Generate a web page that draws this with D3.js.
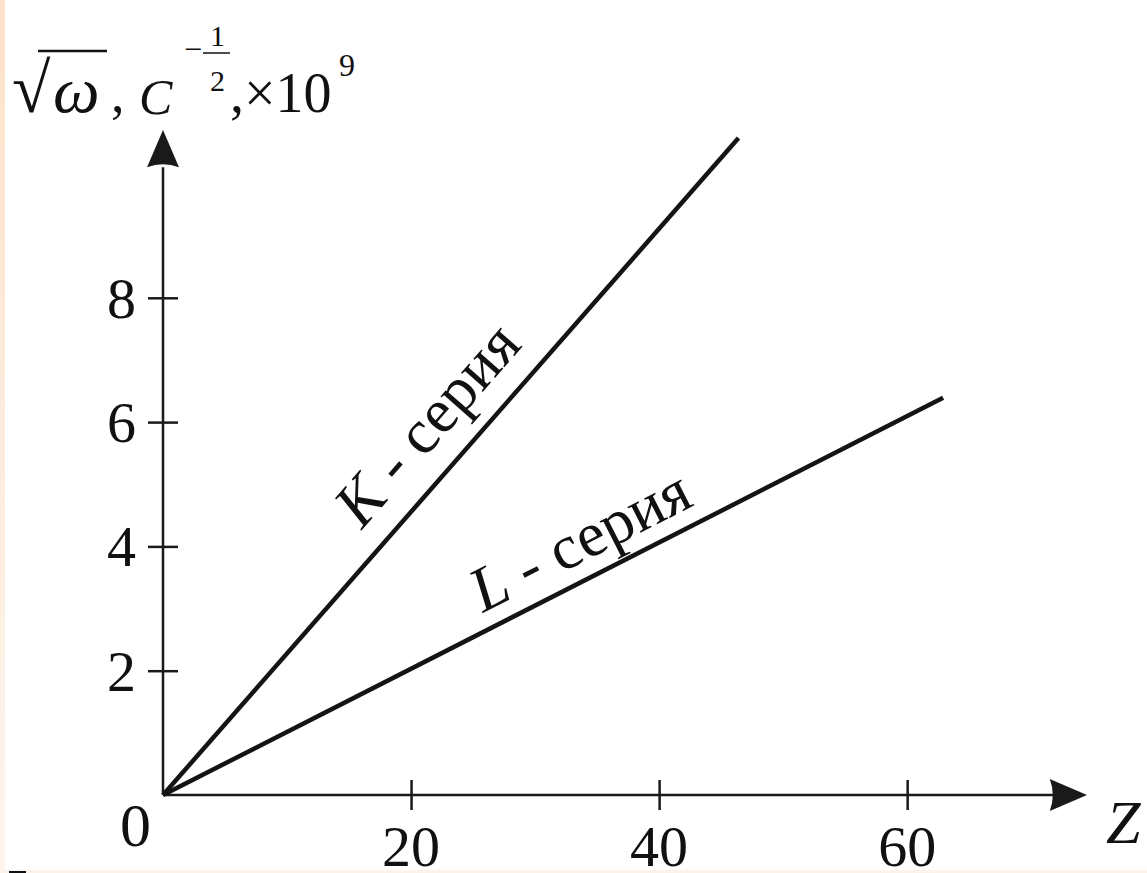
<!DOCTYPE html>
<html>
<head>
<meta charset="utf-8">
<script src="https://cdn.jsdelivr.net/npm/d3@7"></script>
</head>
<body style="margin:0;background:#fff">
<script>
(function(){

//chart data
var seriesNames = ["K - серия", "L - серия"];
var seriesLetters = ["K", "L"];
var kLine = [[0, 0], [46.4, 10.57]];
var lLine = [[0, 0], [62.9, 6.39]];
var xTicks = [20, 40, 60];
var yTicks = [2, 4, 6, 8];

var serif = "'Liberation Serif'";
var ink = "#111";

//frame
var width = 1147, height = 873;

var svg = d3.select("body")
  .append("svg")
  .attr("width", width)
  .attr("height", height);

//small helper so every label gets the serif face
function label(parent, txt, size, italic){
  return parent.append("text")
    .style("font-family", serif)
    .style("font-size", size + "px")
    .style("font-style", italic ? "italic" : "normal")
    .style("fill", ink)
    .text(txt);
}

//peach page edges
var grad = svg.append("defs").append("linearGradient")
  .attr("id", "edge")
  .attr("x1", 0).attr("y1", 0).attr("x2", 0).attr("y2", 1);
grad.append("stop").attr("offset", "0%").attr("stop-color", "#fde2cb");
grad.append("stop").attr("offset", "100%").attr("stop-color", "#fdf5ee");

svg.append("rect").attr("x", 0).attr("y", 0).attr("width", 5).attr("height", height).attr("fill", "url(#edge)");
svg.append("rect").attr("x", 0).attr("y", 870).attr("width", width).attr("height", 3).attr("fill", "#fdf3ea");
svg.append("rect").attr("x", 9).attr("y", 871).attr("width", 17).attr("height", 2).attr("fill", ink);

//scales
var x = d3.scaleLinear().domain([0, 74.5]).range([163, 1087]);
var y = d3.scaleLinear().domain([0, 10.7]).range([795, 130]);

var axisColor = "#1a1a1a";

//x axis
var xAxis = svg.append("g")
  .attr("transform", "translate(0," + y(0) + ")")
  .call(d3.axisBottom(x).tickValues(xTicks).tickSize(15).tickFormat(""));
xAxis.select(".domain").remove();
xAxis.selectAll(".tick line")
  .attr("y1", -15).attr("y2", 15)
  .attr("stroke", axisColor).attr("stroke-width", 2.5);

svg.append("line")
  .attr("x1", x(0)).attr("x2", x(71.8))
  .attr("y1", y(0)).attr("y2", y(0))
  .attr("stroke", axisColor).attr("stroke-width", 2.5);

//y axis
var yAxis = svg.append("g")
  .attr("transform", "translate(" + x(0) + ",0)")
  .call(d3.axisLeft(y).tickValues(yTicks).tickSize(15).tickFormat(""));
yAxis.select(".domain").remove();
yAxis.selectAll(".tick line")
  .attr("x1", -15).attr("x2", 15)
  .attr("stroke", axisColor).attr("stroke-width", 2.5);

svg.append("line")
  .attr("x1", x(0)).attr("x2", x(0))
  .attr("y1", y(0)).attr("y2", y(10.1))
  .attr("stroke", axisColor).attr("stroke-width", 2.5);

//arrow heads
var ax0 = x(0), ay0 = y(0);
var yTip = y(10.7), yBase = y(10.1);
svg.append("path")
  .attr("d", "M" + ax0 + "," + yTip +
    "L" + (ax0 + 16) + "," + yBase +
    "Q" + ax0 + "," + (yBase - 6) + " " + (ax0 - 16) + "," + yBase + "Z")
  .attr("fill", axisColor);

var xTip = x(74.5), xBase = x(71.5);
svg.append("path")
  .attr("d", "M" + xTip + "," + ay0 +
    "L" + xBase + "," + (ay0 - 16) +
    "Q" + (xBase + 6) + "," + ay0 + " " + xBase + "," + (ay0 + 16) + "Z")
  .attr("fill", axisColor);

//tick labels
yTicks.forEach(function(d){
  label(svg, d, 58, false)
    .attr("x", x(0) - 27)
    .attr("y", y(d) + 20)
    .attr("text-anchor", "end");
});

xTicks.forEach(function(d){
  label(svg, d, 58, false)
    .attr("x", x(d))
    .attr("y", y(0) + 71)
    .attr("text-anchor", "middle");
});

label(svg, "0", 62, false)
  .attr("x", x(0) - 12)
  .attr("y", y(0) + 51)
  .attr("text-anchor", "end");

label(svg, "Z", 62, true)
  .attr("x", 1106)
  .attr("y", y(0) + 48);

//series lines
var line = d3.line()
  .x(function(d){ return x(d[0]); })
  .y(function(d){ return y(d[1]); });

var seriesData = [kLine, lLine];
svg.selectAll(".series")
  .data(seriesData)
  .enter()
  .append("path")
  .attr("class", "series")
  .attr("d", line)
  .attr("fill", "none")
  .attr("stroke", "#141414")
  .attr("stroke-width", 4.5);

//series labels along the lines
var labelPos = [{f: 0.378, off: 25}, {f: 0.42, off: 17}];
seriesData.forEach(function(s, i){
  var x0 = x(s[0][0]), y0 = y(s[0][1]);
  var x1 = x(s[1][0]), y1 = y(s[1][1]);
  var ang = Math.atan2(y1 - y0, x1 - x0);
  var ux = Math.cos(ang), uy = Math.sin(ang);
  var nx = uy, ny = -ux; //perpendicular, pointing above the line
  var len = Math.sqrt((x1 - x0) * (x1 - x0) + (y1 - y0) * (y1 - y0));
  var px = x0 + ux * len * labelPos[i].f + nx * labelPos[i].off;
  var py = y0 + uy * len * labelPos[i].f + ny * labelPos[i].off;
  var t = label(svg, "", 63, false)
    .attr("transform", "translate(" + px + "," + py + ") rotate(" + (ang * 180 / Math.PI) + ")");
  t.append("tspan").style("font-style", "italic").text(seriesLetters[i]);
  t.append("tspan").text(seriesNames[i].slice(1));
});

//axis title: sqrt(omega), C^(-1/2), x10^9
var title = svg.append("g").attr("class", "title");
label(title, "√", 70, false).attr("x", 12).attr("y", 112);
title.append("line")
  .attr("x1", 38).attr("x2", 107).attr("y1", 51).attr("y2", 51)
  .attr("stroke", ink).attr("stroke-width", 2.5);
label(title, "ω", 66, true).attr("x", 53).attr("y", 112);
label(title, ",", 54, false).attr("x", 111).attr("y", 112);
label(title, "C", 50, true).attr("x", 139).attr("y", 114);
label(title, "−", 32, false).attr("x", 184).attr("y", 60);
label(title, "1", 30, false).attr("x", 210).attr("y", 46);
title.append("line")
  .attr("x1", 203).attr("x2", 230).attr("y1", 53).attr("y2", 53)
  .attr("stroke", ink).attr("stroke-width", 1.5);
label(title, "2", 30, false).attr("x", 210).attr("y", 91);
label(title, ",×10", 56, false).attr("x", 230).attr("y", 112);
label(title, "9", 32, false).attr("x", 339).attr("y", 76);

})();
</script>
</body>
</html>
